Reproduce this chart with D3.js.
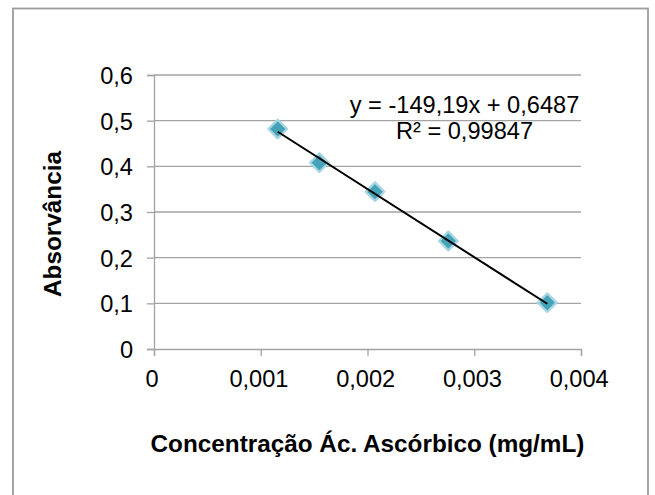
<!DOCTYPE html>
<html>
<head>
<meta charset="utf-8">
<script src="https://cdn.jsdelivr.net/npm/d3@7/dist/d3.min.js"></script>
<style>
  html, body { margin: 0; padding: 0; background: #fff; }
  svg { display: block; }
  text { font-family: "Liberation Sans", Arial, sans-serif; fill: #000; }
</style>
</head>
<body>
<svg id="chart" width="655" height="495"></svg>
<script>
// Calibration data: ascorbic acid concentration (mg/mL) vs absorbance
const concentration = [0.001159, 0.001549, 0.002070, 0.002757, 0.003684];
const absorbance    = [0.4817, 0.4079, 0.3444, 0.2365, 0.1014];

// Linear fit reported on the chart
const fitSlope = -149.19;
const fitIntercept = 0.6487;
const fitLabels = ["y = -149,19x + 0,6487", "R² = 0,99847"];

const xTicks = [0, 0.001, 0.002, 0.003, 0.004];
const yTicks = [0, 0.1, 0.2, 0.3, 0.4, 0.5, 0.6];

const xTitle = "Concentração Ác. Ascórbico (mg/mL)";
const yTitle = "Absorvância";

const svg = d3.select("#chart");
const fmt = v => String(+v.toFixed(3)).replace(".", ",");

const x = d3.scaleLinear().domain([0, 0.004]).range([154, 581]);
const y = d3.scaleLinear().domain([0, 0.6]).range([349, 75]);

const gridColor = "#a3a3a3";
const labelSize = 23.6;
const titleSize = 24.3;

// outer chart frame
svg.append("rect")
  .attr("x", 13).attr("y", 8.5)
  .attr("width", 635).attr("height", 520)
  .attr("fill", "none")
  .attr("stroke", "#9c9c9c")
  .attr("stroke-width", 1.8);

// horizontal gridlines
svg.append("g")
  .selectAll("line")
  .data(yTicks.filter(d => d > 0))
  .join("line")
  .attr("x1", x(0)).attr("x2", x(0.004))
  .attr("y1", d => y(d)).attr("y2", d => y(d))
  .attr("stroke", gridColor)
  .attr("stroke-width", 1.3);

// y axis
const yAxis = svg.append("g")
  .attr("transform", `translate(${x(0)},0)`)
  .call(d3.axisLeft(y).tickValues(yTicks).tickSize(7).tickPadding(14).tickFormat(fmt));
yAxis.select(".domain").attr("stroke", gridColor).attr("stroke-width", 1.3);
yAxis.selectAll(".tick line").attr("stroke", gridColor).attr("stroke-width", 1.3);
yAxis.selectAll(".tick text")
  .attr("font-size", labelSize)
  .attr("font-family", "Liberation Sans, Arial, sans-serif")
  .attr("fill", "#000")
  .attr("dy", "0.36em");

// x axis
const xAxis = svg.append("g")
  .attr("transform", `translate(0,${y(0)})`)
  .call(d3.axisBottom(x).tickValues(xTicks).tickSize(7).tickPadding(14).tickFormat(fmt));
xAxis.select(".domain").attr("stroke", gridColor).attr("stroke-width", 1.3);
xAxis.selectAll(".tick line").attr("stroke", gridColor).attr("stroke-width", 1.3);
xAxis.selectAll(".tick text")
  .attr("font-size", labelSize)
  .attr("font-family", "Liberation Sans, Arial, sans-serif")
  .attr("fill", "#000")
  .attr("dx", "-0.1em");

// data markers (diamonds)
const points = concentration.map((c, i) => ({ c, a: absorbance[i] }));
const diamond = d3.symbol().type(d3.symbolDiamond2).size(220);
svg.append("g")
  .selectAll("path")
  .data(points)
  .join("path")
  .attr("d", diamond)
  .attr("transform", d => `translate(${x(d.c)},${y(d.a)})`)
  .attr("fill", "#44a3b8")
  .attr("stroke", "#a8d6e2")
  .attr("stroke-width", 2.4)
  .attr("stroke-linejoin", "round");

// linear trendline across the data range
const xMin = d3.min(concentration), xMax = d3.max(concentration);
svg.append("line")
  .attr("x1", x(xMin)).attr("y1", y(fitSlope * xMin + fitIntercept))
  .attr("x2", x(xMax)).attr("y2", y(fitSlope * xMax + fitIntercept))
  .attr("stroke", "#000")
  .attr("stroke-width", 2);

// trendline equation
svg.append("g")
  .selectAll("text")
  .data(fitLabels)
  .join("text")
  .attr("x", 464.5)
  .attr("y", (d, i) => 113 + i * 26)
  .attr("text-anchor", "middle")
  .attr("font-size", labelSize)
  .text(d => d);

// axis titles
svg.append("text")
  .attr("x", (x(0) + x(0.004)) / 2)
  .attr("y", 452)
  .attr("text-anchor", "middle")
  .attr("font-size", titleSize)
  .attr("font-weight", "bold")
  .text(xTitle);

svg.append("text")
  .attr("transform", "translate(61,224) rotate(-90)")
  .attr("text-anchor", "middle")
  .attr("font-size", titleSize)
  .attr("font-weight", "bold")
  .text(yTitle);
</script>
</body>
</html>
